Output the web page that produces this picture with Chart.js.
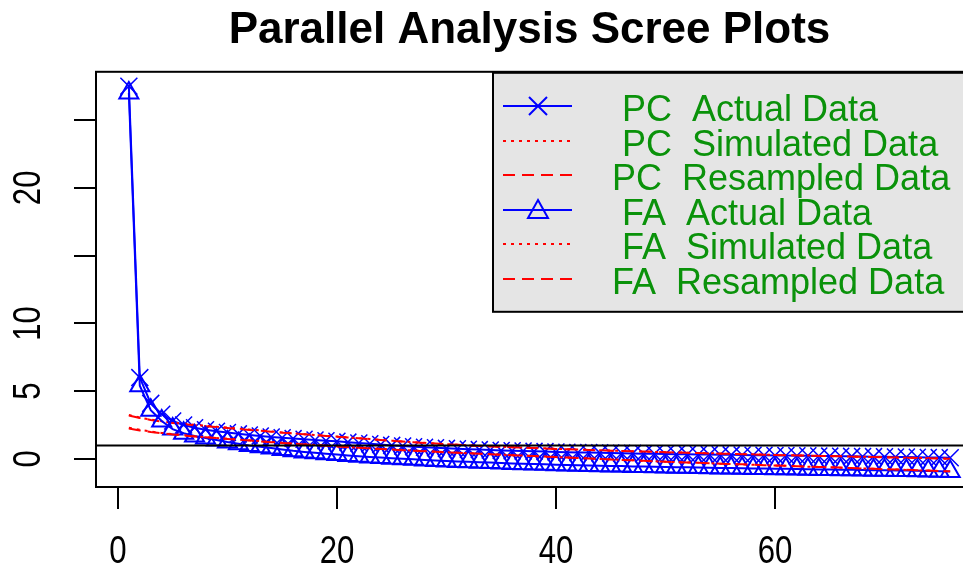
<!DOCTYPE html>
<html>
<head>
<meta charset="utf-8">
<title>Parallel Analysis Scree Plots</title>
<script src="https://cdn.jsdelivr.net/npm/chart.js@4.4.1/dist/chart.umd.min.js"></script>
<style>
  html, body { margin: 0; padding: 0; background: #fff; }
  canvas { display: block; }
</style>
</head>
<body>
<canvas id="scree" width="963" height="576"></canvas>
<script>
// factor numbers 1..76
var nFactors = 76;
var factorNo = Array.from({ length: nFactors }, function (_, i) { return i + 1; });

// eigen values
var pcActual = [
  27.5, 6.0, 4.1, 3.3, 2.8, 2.5, 2.3, 2.15, 2.05, 1.95,
  1.85, 1.77, 1.7, 1.62, 1.56, 1.5, 1.45, 1.4, 1.35, 1.3,
  1.24, 1.18, 1.12, 1.06, 1.0, 0.95, 0.9, 0.86, 0.82, 0.78,
  0.75, 0.72, 0.69, 0.66, 0.63, 0.61, 0.58, 0.56, 0.54, 0.52,
  0.5, 0.48, 0.47, 0.45, 0.44, 0.42, 0.41, 0.39, 0.38, 0.37,
  0.35, 0.34, 0.33, 0.32, 0.31, 0.3, 0.29, 0.28, 0.27, 0.26,
  0.25, 0.24, 0.23, 0.22, 0.21, 0.2, 0.19, 0.18, 0.17, 0.16,
  0.15, 0.14, 0.12, 0.11, 0.1, 0.09
];
var pcSimulated = [
  3.25, 3.05, 2.9, 2.78, 2.68, 2.6, 2.52, 2.45, 2.38, 2.31,
  2.24, 2.17, 2.1, 2.03, 1.96, 1.89, 1.83, 1.77, 1.71, 1.65,
  1.59, 1.53, 1.47, 1.41, 1.35, 1.29, 1.24, 1.19, 1.14, 1.09,
  1.05, 1.01, 0.97, 0.93, 0.9, 0.87, 0.84, 0.81, 0.78, 0.75,
  0.72, 0.69, 0.67, 0.64, 0.62, 0.59, 0.57, 0.55, 0.52, 0.5,
  0.48, 0.46, 0.44, 0.42, 0.4, 0.38, 0.36, 0.34, 0.32, 0.3,
  0.28, 0.26, 0.25, 0.23, 0.21, 0.19, 0.18, 0.16, 0.14, 0.13,
  0.11, 0.09, 0.08, 0.06, 0.04, 0.02
];
var pcResampled = [
  3.2, 3.02, 2.88, 2.76, 2.66, 2.57, 2.49, 2.42, 2.35, 2.28,
  2.21, 2.14, 2.08, 2.01, 1.94, 1.88, 1.82, 1.76, 1.7, 1.64,
  1.58, 1.52, 1.46, 1.4, 1.34, 1.29, 1.23, 1.18, 1.13, 1.08,
  1.04, 1.0, 0.96, 0.92, 0.89, 0.86, 0.83, 0.8, 0.77, 0.74,
  0.71, 0.69, 0.66, 0.64, 0.61, 0.59, 0.56, 0.54, 0.52, 0.5,
  0.47, 0.45, 0.43, 0.41, 0.39, 0.37, 0.35, 0.33, 0.31, 0.29,
  0.28, 0.26, 0.24, 0.22, 0.21, 0.19, 0.17, 0.15, 0.14, 0.12,
  0.1, 0.09, 0.07, 0.05, 0.03, 0.01
];
var faActual = [
  27.0, 5.4, 3.6, 2.8, 2.2, 1.9, 1.7, 1.55, 1.4, 1.25,
  1.12, 1.0, 0.9, 0.8, 0.7, 0.6, 0.52, 0.45, 0.38, 0.32,
  0.26, 0.2, 0.15, 0.1, 0.05, 0.01, -0.03, -0.07, -0.11, -0.15,
  -0.18, -0.21, -0.24, -0.27, -0.3, -0.33, -0.35, -0.38, -0.4, -0.42,
  -0.44, -0.46, -0.48, -0.5, -0.52, -0.53, -0.55, -0.56, -0.58, -0.59,
  -0.61, -0.62, -0.63, -0.65, -0.66, -0.67, -0.68, -0.7, -0.71, -0.72,
  -0.73, -0.74, -0.76, -0.77, -0.78, -0.79, -0.8, -0.81, -0.83, -0.84,
  -0.85, -0.86, -0.88, -0.89, -0.91, -0.93
];
var faSimulated = [
  2.3, 2.15, 2.02, 1.92, 1.83, 1.75, 1.68, 1.61, 1.55, 1.49,
  1.43, 1.37, 1.31, 1.25, 1.19, 1.13, 1.08, 1.03, 0.98, 0.93,
  0.88, 0.83, 0.78, 0.74, 0.7, 0.66, 0.62, 0.58, 0.54, 0.5,
  0.46, 0.42, 0.39, 0.35, 0.32, 0.28, 0.25, 0.21, 0.18, 0.14,
  0.11, 0.07, 0.04, 0.0, -0.03, -0.07, -0.1, -0.13, -0.17, -0.2,
  -0.23, -0.26, -0.29, -0.32, -0.35, -0.38, -0.41, -0.43, -0.46, -0.49,
  -0.51, -0.54, -0.57, -0.59, -0.62, -0.65, -0.67, -0.7, -0.73, -0.76,
  -0.78, -0.81, -0.84, -0.86, -0.89, -0.92
];
var faResampled = [
  2.25, 2.1, 1.99, 1.9, 1.81, 1.73, 1.66, 1.6, 1.54, 1.48,
  1.42, 1.36, 1.3, 1.24, 1.18, 1.13, 1.07, 1.02, 0.97, 0.92,
  0.87, 0.83, 0.78, 0.73, 0.69, 0.65, 0.61, 0.57, 0.53, 0.49,
  0.45, 0.42, 0.38, 0.35, 0.31, 0.28, 0.24, 0.21, 0.17, 0.14,
  0.1, 0.07, 0.03, 0.0, -0.04, -0.07, -0.1, -0.14, -0.17, -0.2,
  -0.23, -0.26, -0.29, -0.32, -0.35, -0.38, -0.4, -0.43, -0.46, -0.48,
  -0.51, -0.54, -0.56, -0.59, -0.62, -0.64, -0.67, -0.7, -0.72, -0.75,
  -0.78, -0.8, -0.83, -0.86, -0.89, -0.91
];

var xTicks = [0, 20, 40, 60];
var yTicks = [0, 5, 10, 15, 20, 25];
var yTickLabels = [0, 5, 10, 20];   // R dropped 15 and 25
var refLine = 1;

var legendLabels = [
  '  PC  Actual Data',
  '  PC  Simulated Data',
  ' PC  Resampled Data',
  '  FA  Actual Data',
  '  FA  Simulated Data',
  ' FA  Resampled Data'
];

var BLUE = '#0000ff', RED = '#ff0000', GREEN = '#0a920a';
var FONT = "'Liberation Sans', Arial, Helvetica, sans-serif";

function pts(arr) {
  return factorNo.map(function (x, i) { return { x: x, y: arr[i] }; });
}

function redLine(label, arr, dash, order) {
  return {
    label: label, data: pts(arr), order: order,
    borderColor: RED, borderWidth: 2, borderDash: dash,
    pointRadius: 0, fill: false, tension: 0
  };
}

// narrow axis numbers like the R device font
function axisText(ctx, txt, x, y, rot) {
  ctx.save();
  ctx.translate(x, y);
  if (rot) ctx.rotate(rot);
  ctx.scale(0.82, 1);
  ctx.fillText(txt, 0, 0);
  ctx.restore();
}

// axes, box, reference line and legend, drawn R style
var rPlot = {
  id: 'rPlot',
  afterDatasetsDraw: function (chart) {
    var ctx = chart.ctx, a = chart.chartArea;
    var xs = chart.scales.x, ys = chart.scales.y;
    ctx.save();
    ctx.strokeStyle = '#000';
    ctx.lineWidth = 2;
    ctx.setLineDash([]);

    var yr = ys.getPixelForValue(refLine);
    ctx.beginPath(); ctx.moveTo(a.left, yr); ctx.lineTo(a.right, yr); ctx.stroke();
    // the right side of the box runs off the picture
    ctx.strokeRect(a.left, a.top, a.right - a.left + 20, a.bottom - a.top);

    // x axis
    ctx.fillStyle = '#000';
    ctx.font = '38px ' + FONT;
    ctx.textAlign = 'center';
    ctx.textBaseline = 'middle';
    xTicks.forEach(function (v) {
      var px = Math.round(xs.getPixelForValue(v));
      ctx.beginPath(); ctx.moveTo(px, a.bottom); ctx.lineTo(px, a.bottom + 22); ctx.stroke();
      axisText(ctx, String(v), px, a.bottom + 66, 0);
    });

    // y axis, rotated labels
    yTicks.forEach(function (v) {
      var py = Math.round(ys.getPixelForValue(v));
      ctx.beginPath(); ctx.moveTo(a.left, py); ctx.lineTo(a.left - 22, py); ctx.stroke();
    });
    yTickLabels.forEach(function (v) {
      axisText(ctx, String(v), a.left - 66, ys.getPixelForValue(v), -Math.PI / 2);
    });

    // legend box
    var lx = 493, ly = a.top + 1, lw = 490, lh = 239;
    ctx.fillStyle = '#e5e5e5';
    ctx.fillRect(lx, ly, lw, lh);
    ctx.strokeRect(lx, ly, lw, lh);

    var rowY = [106, 141, 175, 210, 244, 279];
    var styles = [
      { color: BLUE, dash: [], mark: 'x' },
      { color: RED, dash: [3, 5], mark: null },
      { color: RED, dash: [12, 7], mark: null },
      { color: BLUE, dash: [], mark: 'tri' },
      { color: RED, dash: [3, 5], mark: null },
      { color: RED, dash: [12, 7], mark: null }
    ];
    styles.forEach(function (s, i) {
      var y = rowY[i];
      ctx.strokeStyle = s.color;
      ctx.lineWidth = 2;
      ctx.setLineDash(s.dash);
      ctx.beginPath(); ctx.moveTo(503, y); ctx.lineTo(572, y); ctx.stroke();
      ctx.setLineDash([]);
      if (s.mark === 'x') {
        ctx.beginPath();
        ctx.moveTo(529, y - 9); ctx.lineTo(547, y + 9);
        ctx.moveTo(529, y + 9); ctx.lineTo(547, y - 9);
        ctx.stroke();
      } else if (s.mark === 'tri') {
        ctx.beginPath();
        ctx.moveTo(538, y - 10); ctx.lineTo(548, y + 8); ctx.lineTo(528, y + 8);
        ctx.closePath(); ctx.stroke();
      }
    });

    ctx.fillStyle = GREEN;
    ctx.font = '36px ' + FONT;
    ctx.textAlign = 'left';
    ctx.textBaseline = 'alphabetic';
    legendLabels.forEach(function (t, i) {
      ctx.fillText(t, 602, rowY[i] + 15);
    });
    ctx.restore();
  }
};

new Chart(document.getElementById('scree').getContext('2d'), {
  type: 'line',
  data: {
    datasets: [
      {
        label: 'PC Actual Data', data: pts(pcActual), order: 6,
        borderColor: BLUE, borderWidth: 2, tension: 0, fill: false,
        pointStyle: 'crossRot', pointRadius: 12, pointBorderWidth: 1.5,
        pointBorderColor: BLUE, pointBackgroundColor: BLUE
      },
      redLine('PC Simulated Data', pcSimulated, [3, 5], 5),
      redLine('PC Resampled Data', pcResampled, [12, 7], 4),
      {
        label: 'FA Actual Data', data: pts(faActual), order: 3,
        borderColor: BLUE, borderWidth: 2, tension: 0, fill: false,
        pointStyle: 'triangle', pointRadius: 11, pointBorderWidth: 2,
        pointBorderColor: BLUE, pointBackgroundColor: 'rgba(0,0,0,0)'
      },
      redLine('FA Simulated Data', faSimulated, [3, 5], 2),
      redLine('FA Resampled Data', faResampled, [12, 7], 1)
    ]
  },
  options: {
    responsive: false,
    animation: false,
    devicePixelRatio: 1,
    layout: { autoPadding: false, padding: { left: 96, right: 0, top: 0, bottom: 89 } },
    scales: {
      x: { type: 'linear', min: -2.0, max: 77.17, display: false },
      y: { type: 'linear', min: -2.07, max: 28.56, display: false }
    },
    plugins: {
      legend: { display: false },
      tooltip: { enabled: false },
      title: {
        display: true,
        text: 'Parallel Analysis Scree Plots',
        color: '#000',
        font: { family: FONT, size: 44, weight: 'bold', lineHeight: 1.2 },
        padding: { top: 4, bottom: 15 }
      }
    }
  },
  plugins: [rPlot]
});
</script>
</body>
</html>
